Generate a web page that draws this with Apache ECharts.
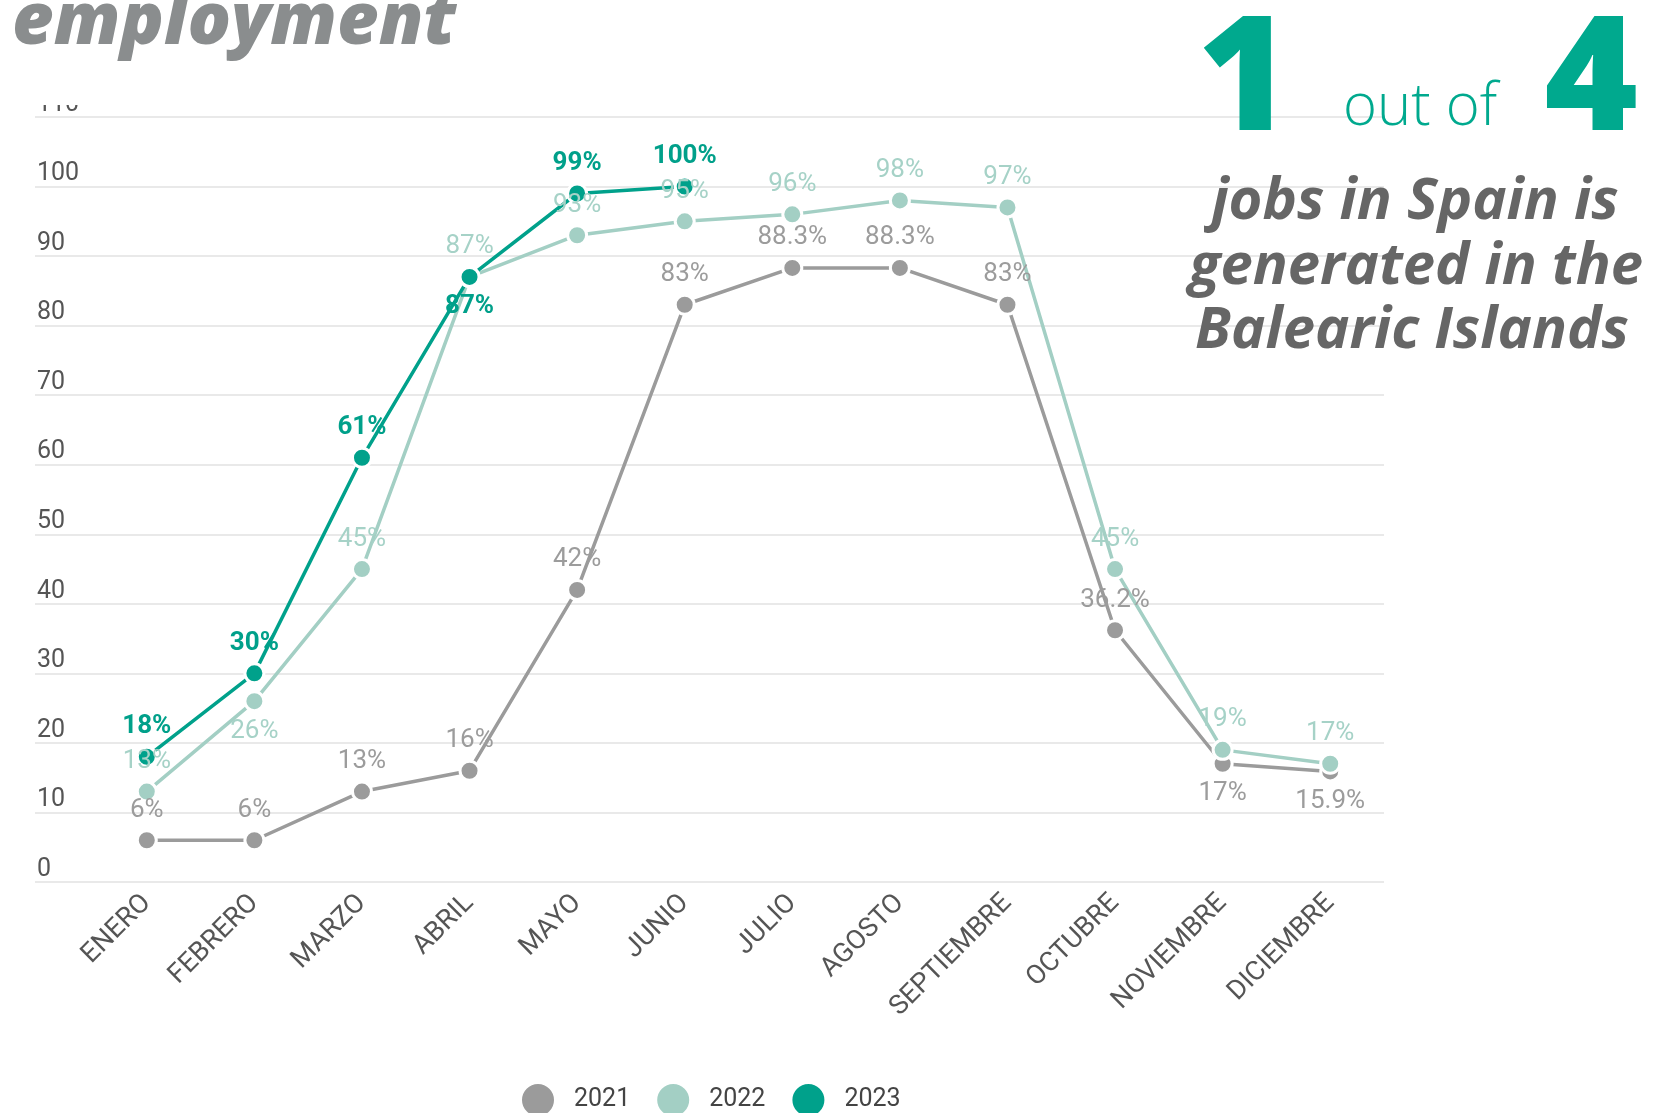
<!DOCTYPE html>
<html>
<head>
<meta charset="utf-8">
<script src="https://cdn.jsdelivr.net/npm/echarts@6/dist/echarts.min.js"></script>
<style>
html,body{margin:0;padding:0;background:#fff;}
#chart{width:1672px;height:1113px;}
</style>
</head>
<body>
<div id="chart"></div>
<script>
const months = ['ENERO','FEBRERO','MARZO','ABRIL','MAYO','JUNIO','JULIO','AGOSTO','SEPTIEMBRE','OCTUBRE','NOVIEMBRE','DICIEMBRE'];
const v2021 = [6, 6, 13, 16, 42, 83, 88.3, 88.3, 83, 36.2, 17, 15.9];
const v2022 = [13, 26, 45, 87, 93, 95, 96, 98, 97, 45, 19, 17];
const v2023 = [18, 30, 61, 87, 99, 100, null, null, null, null, null, null];
const below2021 = [10, 11];
const below2022 = [1];
const below2023 = [3];
const yTicks = {min: 0, max: 110, interval: 10};

const chart = echarts.init(document.getElementById('chart'));

function mkData(vals, below) {
  return vals.map((v, i) => below.indexOf(i) >= 0 ? {value: v, label: {position: 'bottom'}} : v);
}

function series(name, vals, below, color, labelColor, bold) {
  return {
    name: name,
    type: 'line',
    xAxisIndex: 1,
    yAxisIndex: 1,
    data: mkData(vals, below),
    symbol: 'circle',
    symbolSize: 19,
    lineStyle: {color: color, width: 3.5},
    itemStyle: {color: color, borderColor: '#fff', borderWidth: 3},
    label: {
      show: true,
      position: 'top',
      distance: 6,
      color: labelColor,
      fontFamily: 'Roboto',
      fontSize: 26,
      fontWeight: bold ? 'bold' : 'normal',
      formatter: p => p.value + '%'
    },
    emphasis: {disabled: true},
    animation: false
  };
}

const option = {
  animation: false,
  textStyle: {fontFamily: 'Roboto'},
  grid: [
    {left: 35, right: 288, top: 117, bottom: 231},
    {left: 93, right: 288, top: 117, bottom: 231}
  ],
  xAxis: [
    {type: 'value', gridIndex: 0, min: 0, max: 1, show: false},
    {
      type: 'category', gridIndex: 1, data: months, boundaryGap: true,
      axisLine: {show: false}, axisTick: {show: false},
      axisLabel: {rotate: 45, margin: 17, color: '#555', fontSize: 27, fontFamily: 'Roboto', interval: 0}
    }
  ],
  yAxis: [
    {
      type: 'value', gridIndex: 0, min: yTicks.min, max: yTicks.max, interval: yTicks.interval,
      axisLine: {show: false}, axisTick: {show: false},
      splitLine: {lineStyle: {color: '#e9e9e9', width: 2}},
      axisLabel: {inside: true, margin: 2, verticalAlign: 'bottom', color: '#555', fontSize: 25, fontFamily: 'Roboto'}
    },
    {type: 'value', gridIndex: 1, min: yTicks.min, max: yTicks.max, interval: yTicks.interval, show: false}
  ],
  legend: {
    data: ['2021', '2022', '2023'],
    left: 515, top: 1077,
    icon: 'circle', itemWidth: 34, itemHeight: 34, itemGap: 25,
    textStyle: {fontSize: 25, color: '#444', fontFamily: 'Roboto', padding: [0, 0, 0, 14]},
    selectedMode: false
  },
  series: [
    series('2021', v2021, below2021, '#9b9b9b', '#9c9c9c', false),
    series('2022', v2022, below2022, '#a3cfc4', '#a6d2c7', false),
    series('2023', v2023, below2023, '#00a18b', '#00a08a', true)
  ],
  graphic: [
    {type: 'rect', z: 100, shape: {x: 0, y: 0, width: 700, height: 105}, style: {fill: '#fff'}},
    {type: 'text', z: 101, x: 12, y: 23,
     style: {text: 'employment', font: 'italic 800 72px "Open Sans"', fill: '#8a8d8e', align: 'left', verticalAlign: 'middle', textAlign: 'left', textVerticalAlign: 'middle'}},
    {type: 'text', z: 101, x: 1244, y: 84,
     style: {text: '1', font: '800 160px "Open Sans"', fill: '#00a98e', align: 'center', verticalAlign: 'middle', textAlign: 'center', textVerticalAlign: 'middle'}},
    {type: 'text', z: 101, x: 1420, y: 108,
     style: {text: 'out of', font: '300 58px "Open Sans"', fill: '#00a98e', align: 'center', verticalAlign: 'middle', textAlign: 'center', textVerticalAlign: 'middle'}},
    {type: 'text', z: 101, x: 1591, y: 84,
     style: {text: '4', font: '800 160px "Open Sans"', fill: '#00a98e', align: 'center', verticalAlign: 'middle', textAlign: 'center', textVerticalAlign: 'middle'}},
    {type: 'text', z: 101, x: 1415, y: 202,
     style: {text: 'jobs in Spain is', font: 'italic bold 58px "Open Sans"', fill: '#666666', align: 'center', verticalAlign: 'middle', textAlign: 'center', textVerticalAlign: 'middle'}},
    {type: 'text', z: 101, x: 1416, y: 267,
     style: {text: 'generated in the', font: 'italic bold 58px "Open Sans"', fill: '#666666', align: 'center', verticalAlign: 'middle', textAlign: 'center', textVerticalAlign: 'middle'}},
    {type: 'text', z: 101, x: 1412, y: 331,
     style: {text: 'Balearic Islands', font: 'italic bold 58px "Open Sans"', fill: '#666666', align: 'center', verticalAlign: 'middle', textAlign: 'center', textVerticalAlign: 'middle'}}
  ]
};
chart.setOption(option);
</script>
</body>
</html>
